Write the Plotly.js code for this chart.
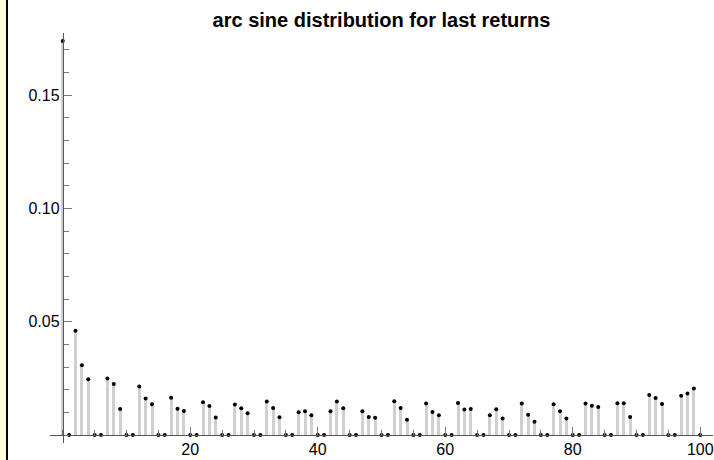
<!DOCTYPE html>
<html>
<head>
<meta charset="utf-8">
<script src="https://cdn.plot.ly/plotly-3.0.1.min.js"></script>
<style>
  html, body { margin: 0; padding: 0; background: #ffffff; }
  #wrap { position: relative; width: 714px; height: 460px; overflow: hidden; }
  #chart { position: absolute; left: 0; top: 0; width: 714px; height: 460px; }
  #strip { position: absolute; left: 0; top: 0; width: 6px; height: 460px; background: #ffffe0; z-index: 5; }
  #edge { position: absolute; left: 6px; top: 0; width: 2px; height: 460px; background: #000; z-index: 5; }
</style>
</head>
<body>
<div id="wrap">
  <div id="chart"></div>
  <div id="strip"></div>
  <div id="edge"></div>
</div>
<script>
// ---- data ----
const returnTimes = Array.from({length: 101}, (_, i) => i);
const probabilities = [
  0.174, 0, 0.0460, 0.0308, 0.0246, 0, 0, 0.0250, 0.0226, 0.0115,
  0, 0, 0.0214, 0.0161, 0.0136, 0, 0, 0.0165, 0.0116, 0.0106,
  0, 0, 0.0145, 0.0128, 0.0078, 0, 0, 0.0135, 0.0118, 0.0096,
  0, 0, 0.0148, 0.0119, 0.0079, 0, 0, 0.0101, 0.0105, 0.0087,
  0, 0, 0.0105, 0.0148, 0.0118, 0, 0, 0.0105, 0.0080, 0.0077,
  0, 0, 0.0149, 0.0120, 0.0068, 0, 0, 0.0139, 0.0102, 0.0087,
  0, 0, 0.0142, 0.0113, 0.0115, 0, 0, 0.0087, 0.0114, 0.0073,
  0, 0, 0.0139, 0.0090, 0.0059, 0, 0, 0.0136, 0.0105, 0.0073,
  0, 0, 0.0139, 0.0129, 0.0124, 0, 0, 0.0141, 0.0140, 0.0080,
  0, 0, 0.0177, 0.0164, 0.0137, 0, 0, 0.0174, 0.0184, 0.0206,
  0
];
const xTickVals = [20, 40, 60, 80, 100];
const xTickText = ["20", "40", "60", "80", "100"];
const yTickVals = [0.05, 0.10, 0.15];
const yTickText = ["0.05", "0.10", "0.15"];
const chartTitle = "arc sine distribution for last returns";

// plot range with Mathematica-like 2% padding
const xMin = -2, xMax = 102;
const yPad = 0.0035;
const yMin = -yPad, yMax = Math.max(...probabilities) + yPad;

const stems = {
  type: 'bar',
  x: returnTimes,
  y: probabilities,
  width: 0.47,
  marker: {color: '#d0d0d0', line: {width: 0}},
  hoverinfo: 'skip'
};
const points = {
  type: 'scatter',
  mode: 'markers',
  x: returnTimes,
  y: probabilities,
  marker: {color: '#000000', size: 4},
  cliponaxis: false
};

const axisFont = {family: 'Liberation Sans, Arial, sans-serif', size: 16, color: '#000'};

const layout = {
  width: 714,
  height: 460,
  margin: {l: 50, r: 1, t: 33, b: 17, pad: 0},
  paper_bgcolor: 'rgba(0,0,0,0)',
  plot_bgcolor: 'rgba(0,0,0,0)',
  showlegend: false,
  bargap: 0,
  title: {
    text: '<b>' + chartTitle + '</b>',
    font: {family: 'Liberation Sans, Arial, sans-serif', size: 20, color: '#000'},
    xref: 'paper', x: 0.5, xanchor: 'center',
    yref: 'container', y: 1 - 20 / 460, yanchor: 'middle'
  },
  xaxis: {
    range: [xMin, xMax],
    anchor: 'free',
    position: (0 - yMin) / (yMax - yMin),
    showline: true, linecolor: '#555', linewidth: 1,
    showgrid: false, zeroline: false,
    ticks: 'inside', ticklen: 8, tickwidth: 1, tickcolor: '#777',
    tickmode: 'array', tickvals: xTickVals, ticktext: xTickText,
    tickfont: axisFont,
    minor: {tickmode: 'linear', tick0: 0, dtick: 5, ticks: 'inside', ticklen: 5, tickwidth: 1, tickcolor: '#777', showgrid: false}
  },
  yaxis: {
    range: [yMin, yMax],
    anchor: 'free',
    position: (0 - xMin) / (xMax - xMin),
    showline: true, linecolor: '#555', linewidth: 1,
    showgrid: false, zeroline: false,
    ticks: 'inside', ticklen: 8, tickwidth: 1, tickcolor: '#777',
    tickmode: 'array', tickvals: yTickVals, ticktext: yTickText,
    tickfont: axisFont,
    minor: {tickmode: 'linear', tick0: 0, dtick: 0.01, ticks: 'inside', ticklen: 5, tickwidth: 1, tickcolor: '#777', showgrid: false}
  }
};

Plotly.newPlot('chart', [stems, points], layout, {displayModeBar: false, staticPlot: true});
</script>
</body>
</html>
